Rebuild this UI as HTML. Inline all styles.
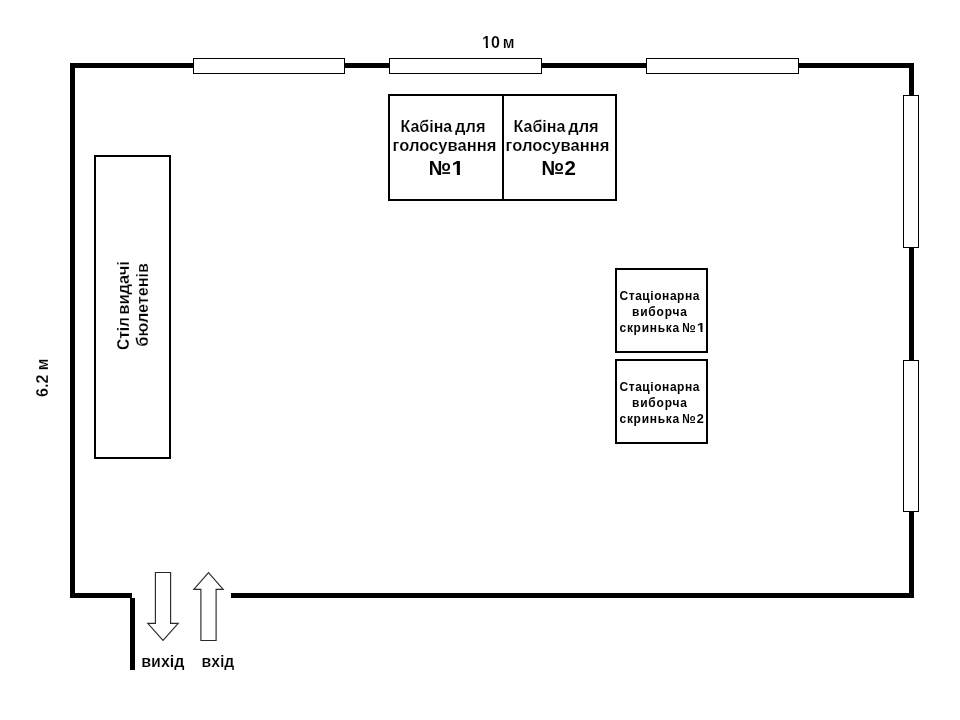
<!DOCTYPE html>
<html lang="uk">
<head>
<meta charset="utf-8">
<title>Схема приміщення для голосування</title>
<style>
  html, body { margin: 0; padding: 0; background: #ffffff; }
  body { width: 960px; height: 720px; overflow: hidden; }
  svg { display: block; filter: grayscale(1); }
  text { font-family: "Liberation Sans", sans-serif; font-weight: bold; fill: #000; }
  .b16 { font-size: 16px; stroke: #fff; stroke-width: 0.18px; }
  .b21 { font-size: 21px; }
  .b13 { font-size: 13.7px; }
  .bo { font-size: 14px; }
  .bs { font-size: 8.6px; }
</style>
</head>
<body>
<svg width="960" height="720" viewBox="0 0 960 720">
  <rect x="0" y="0" width="960" height="720" fill="#ffffff"/>

  <!-- room walls -->
  <g fill="#000" shape-rendering="crispEdges">
    <rect x="70" y="63" width="844" height="5"/>
    <rect x="70" y="63" width="5" height="535"/>
    <rect x="909" y="63" width="5" height="535"/>
    <rect x="231" y="593" width="683" height="5"/>
    <rect x="70" y="593" width="62" height="5"/>
    <rect x="130" y="598" width="5" height="72"/>
  </g>

  <!-- windows -->
  <g fill="#fff" stroke="#000" stroke-width="1" shape-rendering="crispEdges">
    <rect x="193.5" y="58.5" width="151" height="15"/>
    <rect x="389.5" y="58.5" width="152" height="15"/>
    <rect x="646.5" y="58.5" width="152" height="15"/>
    <rect x="903.5" y="95.5" width="15" height="152"/>
    <rect x="903.5" y="360.5" width="15" height="151"/>
  </g>

  <!-- table, voting cabins, ballot boxes -->
  <g fill="#fff" stroke="#000" stroke-width="2" shape-rendering="crispEdges">
    <rect x="95" y="156" width="75" height="302"/>
    <rect x="389" y="95" width="227" height="105"/>
    <line x1="503" y1="95" x2="503" y2="200"/>
    <rect x="616" y="269" width="91" height="83"/>
    <rect x="616" y="360" width="91" height="83"/>
  </g>

  <!-- exit / entry arrows -->
  <g fill="#fff" stroke="#2a2a2a" stroke-width="1.15" stroke-linejoin="miter">
    <path d="M155.4 572.5 H170.6 V623.3 H178.2 L163 640.4 L147.8 623.3 H155.4 Z"/>
    <path d="M208.5 572.6 L223.2 589.3 H216.1 V640.5 H200.9 V589.3 H193.8 Z"/>
  </g>

  <!-- labels -->
  <text id="t10" class="b16" x="482.00" y="47.60" textLength="17.80" lengthAdjust="spacingAndGlyphs">10</text>
  <text id="t10m" class="b16" x="502.75" y="47.60" textLength="11.76" lengthAdjust="spacingAndGlyphs">м</text>
  <text id="t62" class="b16" transform="translate(48.10,396.90) rotate(-90)" textLength="22.42" lengthAdjust="spacingAndGlyphs">6.2</text>
  <text id="t62m" class="b16" transform="translate(48.10,370.25) rotate(-90)" textLength="11.54" lengthAdjust="spacingAndGlyphs">м</text>
  <text id="k1a" class="b16" x="400.55" y="131.60" textLength="51.65" lengthAdjust="spacingAndGlyphs">Кабіна</text>
  <text id="k1b" class="b16" x="455.10" y="131.60" textLength="30.39" lengthAdjust="spacingAndGlyphs">для</text>
  <text id="k2a" class="b16" x="513.50" y="131.60" textLength="51.91" lengthAdjust="spacingAndGlyphs">Кабіна</text>
  <text id="k2b" class="b16" x="568.30" y="131.60" textLength="30.39" lengthAdjust="spacingAndGlyphs">для</text>
  <text id="k1c" class="b16" x="392.55" y="150.60" textLength="103.80" lengthAdjust="spacingAndGlyphs">голосування</text>
  <text id="k2c" class="b16" x="505.60" y="150.60" textLength="103.76" lengthAdjust="spacingAndGlyphs">голосування</text>
  <text id="n1N" class="b21" x="428.75" y="175.00" textLength="13.61" lengthAdjust="spacingAndGlyphs">N</text>
  <text id="n1o" class="bo" x="441.40" y="170.75" textLength="9.16" lengthAdjust="spacingAndGlyphs">o</text>
  <text id="n1d" class="b21" x="451.50" y="175.00" textLength="12.64" lengthAdjust="spacingAndGlyphs">1</text>
  <text id="n2N" class="b21" x="541.60" y="175.00" textLength="13.61" lengthAdjust="spacingAndGlyphs">N</text>
  <text id="n2o" class="bo" x="554.50" y="170.75" textLength="9.10" lengthAdjust="spacingAndGlyphs">o</text>
  <text id="n2d" class="b21" x="564.50" y="175.00" textLength="11.40" lengthAdjust="spacingAndGlyphs">2</text>
  <text id="s1a" class="b16" transform="translate(129.20,350.10) rotate(-90)" textLength="33.06" lengthAdjust="spacingAndGlyphs">Стіл</text>
  <text id="s1b" class="b16" transform="translate(129.20,314.70) rotate(-90)" textLength="53.48" lengthAdjust="spacingAndGlyphs">видачі</text>
  <text id="s2" class="b16" transform="translate(148.30,346.40) rotate(-90)" textLength="83.29" lengthAdjust="spacingAndGlyphs">бюлетенів</text>
  <text id="b1a" class="b13" transform="translate(619.50,300.00) scale(0.875,1)" textLength="91.39" lengthAdjust="spacing">Стаціонарна</text>
  <text id="b1b" class="b13" transform="translate(632.00,315.70) scale(0.875,1)" textLength="62.84" lengthAdjust="spacing">виборча</text>
  <text id="b1c" class="b13" transform="translate(619.50,331.60) scale(0.875,1)" textLength="68.27" lengthAdjust="spacing">скринька</text>
  <text id="b1N" class="b13" x="682.20" y="331.60" textLength="7.43" lengthAdjust="spacingAndGlyphs">N</text>
  <text id="b1o" class="bs" x="689.80" y="329.70" textLength="5.74" lengthAdjust="spacingAndGlyphs">o</text>
  <text id="b1d" class="b13" x="696.70" y="331.60" textLength="8.60" lengthAdjust="spacingAndGlyphs">1</text>
  <text id="b2a" class="b13" transform="translate(619.50,390.90) scale(0.875,1)" textLength="91.39" lengthAdjust="spacing">Стаціонарна</text>
  <text id="b2b" class="b13" transform="translate(632.00,406.80) scale(0.875,1)" textLength="62.84" lengthAdjust="spacing">виборча</text>
  <text id="b2c" class="b13" transform="translate(619.50,422.70) scale(0.875,1)" textLength="68.27" lengthAdjust="spacing">скринька</text>
  <text id="b2N" class="b13" x="682.20" y="422.70" textLength="7.43" lengthAdjust="spacingAndGlyphs">N</text>
  <text id="b2o" class="bs" x="689.80" y="420.80" textLength="5.74" lengthAdjust="spacingAndGlyphs">o</text>
  <text id="b2d" class="b13" x="696.65" y="422.70" textLength="7.09" lengthAdjust="spacingAndGlyphs">2</text>
  <text id="vy" class="b16" x="141.25" y="667.40" textLength="43.17" lengthAdjust="spacingAndGlyphs">вихід</text>
  <text id="vh" class="b16" x="201.50" y="667.40" textLength="32.82" lengthAdjust="spacingAndGlyphs">вхід</text>
  <!-- numero underlines -->
  <g fill="#000">
    <rect x="442.2" y="172.2" width="7.8" height="1.7"/>
    <rect x="555.2" y="172.2" width="7.8" height="1.7"/>
    <rect x="690.2" y="330.9" width="4.8" height="1.1"/>
    <rect x="690.2" y="421.9" width="4.8" height="1.1"/>
  </g>
  <!-- trim the serif foot of digit 1 so it matches the plain reference glyph -->
  <g fill="#fff">
    <rect x="451.5" y="172.6" width="5.4" height="2.8"/>
    <rect x="459.9" y="172.6" width="4.3" height="2.8"/>
    <rect x="482.4" y="45.8" width="3.4" height="2.6"/>
    <rect x="488" y="45.8" width="3" height="2.6"/>
    <rect x="696.4" y="329.8" width="4.15" height="2.6"/>
    <rect x="702.55" y="329.8" width="2.9" height="2.6"/>
  </g>
</svg>
</body>
</html>
